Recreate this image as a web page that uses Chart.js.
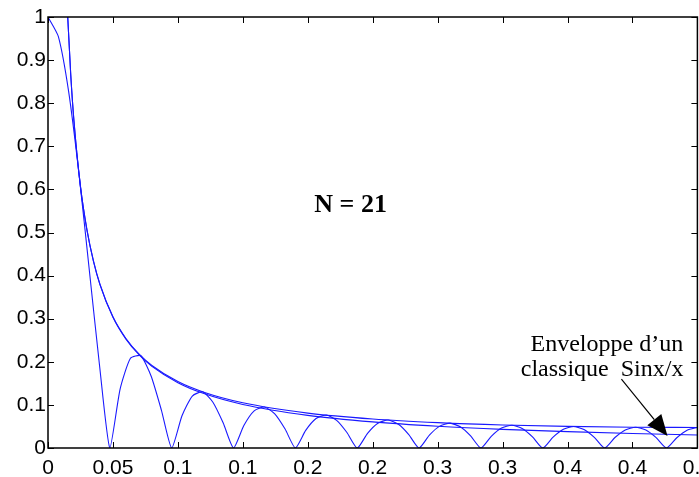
<!DOCTYPE html>
<html lang="fr">
<head>
  <meta charset="UTF-8" />
  <title>N = 21</title>
  <script src="https://cdn.jsdelivr.net/npm/chart.js"></script>
  <style>
    html, body { margin: 0; padding: 0; background: #fff; overflow: hidden; }
    #wrap { width: 720px; height: 477px; }
  </style>
</head>
<body>
  <div id="wrap"><canvas id="plot" width="720" height="477"></canvas></div>

  <script>
    // x ticks (MATLAB rounded labels)
    const xTickValues = [0, 0.05, 0.1, 0.15, 0.2, 0.25, 0.3, 0.35, 0.4, 0.45, 0.5];
    const xTickLabels = ["0", "0.05", "0.1", "0.1", "0.2", "0.2", "0.3", "0.3", "0.4", "0.4", "0.5"];
    const yTickValues = [0, 0.1, 0.2, 0.3, 0.4, 0.5, 0.6, 0.7, 0.8, 0.9, 1];

    // response |sin(N pi f) / (N sin pi f)|
    const freqX = [
      0, 0.00794, 0.01587, 0.02381, 0.03175, 0.03968, 0.04762, 0.05556, 0.06349, 0.07143,
      0.07937, 0.08730, 0.09524, 0.10317, 0.11111, 0.11905, 0.12698, 0.13492, 0.14286, 0.15079,
      0.15873, 0.16667, 0.17460, 0.18254, 0.19048, 0.19841, 0.20635, 0.21429, 0.22222, 0.23016,
      0.23810, 0.24603, 0.25397, 0.26190, 0.26984, 0.27778, 0.28571, 0.29365, 0.30159, 0.30952,
      0.31746, 0.32540, 0.33333, 0.34127, 0.34921, 0.35714, 0.36508, 0.37302, 0.38095, 0.38889,
      0.39683, 0.40476, 0.41270, 0.42063, 0.42857, 0.43651, 0.44444, 0.45238, 0.46032, 0.46825,
      0.47619, 0.48413, 0.49206, 0.50000
    ];
    const response = [
      1, 0.9550, 0.8273, 0.6372, 0.4142, 0.1915, 0, 0.1371, 0.2081, 0.2140,
      0.1671, 0.0879, 0, 0.0748, 0.1206, 0.1303, 0.1062, 0.0579, 0, 0.0522,
      0.0862, 0.0952, 0.0791, 0.0439, 0, 0.0408, 0.0683, 0.0764, 0.0642, 0.0360,
      0, 0.0341, 0.0576, 0.0650, 0.0550, 0.0311, 0, 0.0299, 0.0508, 0.0576,
      0.0491, 0.0279, 0, 0.0271, 0.0463, 0.0529, 0.0452, 0.0258, 0, 0.0253,
      0.0435, 0.0498, 0.0428, 0.0246, 0, 0.0243, 0.0419, 0.0482, 0.0416, 0.0239,
      0, 0.0238, 0.0413, 0.0476
    ];

    // the two envelopes
    const envX = [0.011, 0.013, 0.015, 0.0175, 0.02, 0.025, 0.03, 0.035, 0.04, 0.05, 0.06, 0.07,
                  0.08, 0.1, 0.12, 0.15, 0.2, 0.25, 0.3, 0.35, 0.4, 0.45, 0.5];
    const envSin = [1.378, 1.166, 1.0109, 0.8666, 0.7583, 0.6069, 0.5060, 0.4340, 0.3799, 0.3044, 0.2541, 0.2183,
                    0.1915, 0.1541, 0.1294, 0.1049, 0.0810, 0.0673, 0.0589, 0.0534, 0.0501, 0.0482, 0.0476];
    const envSinc = [1.378, 1.166, 1.0105, 0.8662, 0.7579, 0.6063, 0.5053, 0.4331, 0.3789, 0.3032, 0.2526, 0.2165,
                     0.1895, 0.1516, 0.1263, 0.1011, 0.0758, 0.0606, 0.0505, 0.0433, 0.0379, 0.0337, 0.0303];

    const lineBlue = 'rgb(25,25,255)';

    function pts(xs, ys) {
      return xs.map((x, i) => ({ x: x, y: ys[i] }));
    }

    // frame, inward ticks and the annotations
    const matlabFrame = {
      id: 'matlabFrame',
      afterDraw(chart) {
        const ctx = chart.ctx;
        const a = chart.chartArea;
        const xs = chart.scales.x;
        const ys = chart.scales.y;
        const t = 6;
        ctx.save();
        ctx.strokeStyle = '#000';
        ctx.lineWidth = 1;
        ctx.beginPath();
        xTickValues.forEach(v => {
          const px = Math.round(xs.getPixelForValue(v)) + 0.5;
          ctx.moveTo(px, a.bottom); ctx.lineTo(px, a.bottom - t);
          ctx.moveTo(px, a.top); ctx.lineTo(px, a.top + t);
        });
        yTickValues.forEach(v => {
          const py = Math.round(ys.getPixelForValue(v)) + 0.5;
          ctx.moveTo(a.left, py); ctx.lineTo(a.left + t, py);
          ctx.moveTo(a.right, py); ctx.lineTo(a.right - t, py);
        });
        ctx.stroke();
        ctx.lineWidth = 1.5;
        ctx.strokeRect(a.left, a.top, a.right - a.left, a.bottom - a.top);

        // labels
        ctx.fillStyle = '#000';
        ctx.font = 'bold 26px "Liberation Serif", "Times New Roman", serif';
        ctx.textAlign = 'center';
        ctx.textBaseline = 'alphabetic';
        ctx.fillText('N = 21', xs.getPixelForValue(0.233), ys.getPixelForValue(0.548));

        ctx.font = '24px "Liberation Serif", "Times New Roman", serif';
        ctx.textAlign = 'left';
        ctx.fillText('Enveloppe d\u2019un', xs.getPixelForValue(0.3715), ys.getPixelForValue(0.225));
        ctx.fillText('classique  Sinx/x', xs.getPixelForValue(0.3640), ys.getPixelForValue(0.166));

        // arrow
        const x0 = xs.getPixelForValue(0.4415), y0 = ys.getPixelForValue(0.160);
        const x1 = xs.getPixelForValue(0.477), y1 = ys.getPixelForValue(0.028);
        const ang = Math.atan2(y1 - y0, x1 - x0);
        const hl = 21, hw = 9;
        const bx = x1 - hl * Math.cos(ang), by = y1 - hl * Math.sin(ang);
        ctx.lineWidth = 1.2;
        ctx.beginPath();
        ctx.moveTo(x0, y0); ctx.lineTo(bx, by);
        ctx.stroke();
        ctx.beginPath();
        ctx.moveTo(x1, y1);
        ctx.lineTo(bx + hw * Math.sin(ang), by - hw * Math.cos(ang));
        ctx.lineTo(bx - hw * Math.sin(ang), by + hw * Math.cos(ang));
        ctx.closePath();
        ctx.fill();
        ctx.restore();
      }
    };

    new Chart(document.getElementById('plot'), {
      type: 'scatter',
      data: {
        datasets: [
          { data: pts(freqX, response), showLine: true, borderColor: lineBlue, borderWidth: 1.1,
            pointRadius: 0, tension: 0.2 },
          { data: pts(envX, envSin), showLine: true, borderColor: lineBlue, borderWidth: 1.1,
            pointRadius: 0, cubicInterpolationMode: 'monotone' },
          { data: pts(envX, envSinc), showLine: true, borderColor: lineBlue, borderWidth: 1.1,
            pointRadius: 0, cubicInterpolationMode: 'monotone' }
        ]
      },
      options: {
        responsive: false,
        animation: false,
        layout: { padding: { top: 17, right: 22, left: 0, bottom: 0 } },
        plugins: { legend: { display: false }, tooltip: { enabled: false } },
        scales: {
          x: {
            type: 'linear', min: 0, max: 0.5,
            grid: { display: false, drawTicks: false },
            border: { display: false },
            afterBuildTicks: s => { s.ticks = xTickValues.map(v => ({ value: v })); },
            afterFit: s => { s.height = 29; },
            ticks: {
              padding: 8, maxRotation: 0, autoSkip: false, color: '#000',
              font: { family: '"Liberation Sans", Arial, sans-serif', size: 21 },
              callback: (v) => xTickLabels[Math.round(v / 0.05)]
            }
          },
          y: {
            min: 0, max: 1,
            grid: { display: false, drawTicks: false },
            border: { display: false },
            afterBuildTicks: s => { s.ticks = yTickValues.map(v => ({ value: v })); },
            afterFit: s => { s.width = 48; },
            ticks: {
              padding: 2, color: '#000',
              font: { family: '"Liberation Sans", Arial, sans-serif', size: 21 },
              callback: (v) => (v === 0 || v === 1) ? String(v) : v.toFixed(1)
            }
          }
        }
      },
      plugins: [matlabFrame]
    });
  </script>
</body>
</html>
